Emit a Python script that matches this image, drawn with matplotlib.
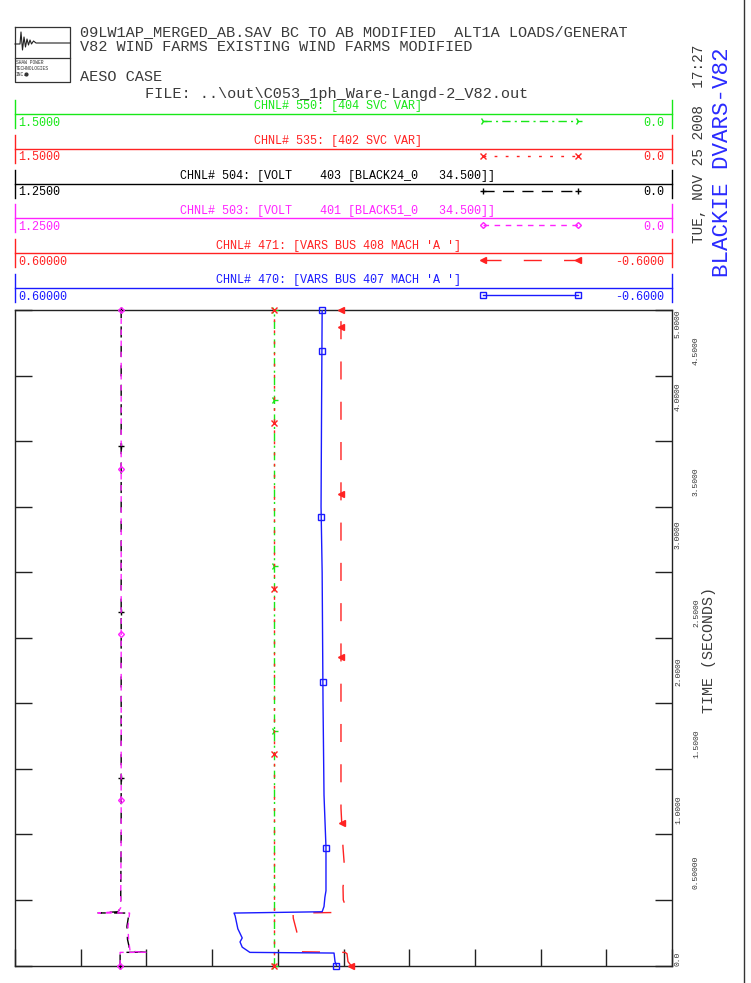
import matplotlib
matplotlib.use('Agg')
import matplotlib.pyplot as plt
import matplotlib.transforms as mtransforms
import numpy as np

plt.rcParams['font.family'] = ['Liberation Mono', 'DejaVu Sans']

# ---------------- data ----------------
header_lines = ['09LW1AP_MERGED_AB.SAV BC TO AB MODIFIED  ALT1A LOADS/GENERAT',
                'V82 WIND FARMS EXISTING WIND FARMS MODIFIED']
case_name = 'AESO CASE'
file_name = r'FILE: ..\out\C053_1ph_Ware-Langd-2_V82.out'
date_text = 'TUE, NOV 25 2008  17:27'
plot_title = 'BLACKIE DVARS-V82'

ch_titles = ['CHNL# 550: [404 SVC VAR]',
             'CHNL# 535: [402 SVC VAR]',
             'CHNL# 504: [VOLT    403 [BLACK24_0   34.500]]',
             'CHNL# 503: [VOLT    401 [BLACK51_0   34.500]]',
             "CHNL# 471: [VARS BUS 408 MACH 'A ']",
             "CHNL# 470: [VARS BUS 407 MACH 'A ']"]
ch_left = [1.5, 1.5, 1.25, 1.25, 0.6, 0.6]
ch_right = [0.0, 0.0, 0.0, 0.0, -0.6, -0.6]
ch_left_txt = ['1.5000', '1.5000', '1.2500', '1.2500', '0.60000', '0.60000']
ch_right_txt = ['0.0', '0.0', '0.0', '0.0', '-0.6000', '-0.6000']

# channel 550 - SVC var at bus 404
t_550 = [0.0, 0.1, 0.4, 5.0]
svc_404 = [0.909, 0.909, 0.909, 0.909]
# channel 535 - SVC var at bus 402
t_535 = [0.0, 0.1, 0.4, 5.0]
svc_402 = [0.909, 0.909, 0.909, 0.909]
# channel 504 - voltage bus 403
t_504 = [0.0, 0.1, 0.101, 0.108, 0.2, 0.3, 0.4, 0.401, 0.41, 0.44, 1.0, 2.0, 3.0, 4.0, 5.0]
volt_403 = [1.050, 1.050, 1.001, 1.031, 1.036, 1.037, 1.033, 1.092, 1.054, 1.049,
            1.048, 1.048, 1.048, 1.048, 1.048]
# channel 503 - voltage bus 401
t_503 = [0.0, 0.1, 0.101, 0.108, 0.2, 0.3, 0.4, 0.401, 0.41, 0.44, 1.0, 2.0, 3.0, 4.0, 5.0]
volt_401 = [1.050, 1.050, 1.001, 1.031, 1.034, 1.035, 1.032, 1.092, 1.054, 1.049,
            1.048, 1.048, 1.048, 1.048, 1.048]
# channel 471 - vars machine at bus 408
t_471 = [0.0, 0.03, 0.09, 0.1, 0.105, 0.2, 0.26, 0.36, 0.4, 0.405, 0.45, 0.5, 0.6,
         0.7, 0.9, 1.2, 2.0, 3.0, 4.0, 5.0]
vars_408 = [-0.0137, -0.0082, -0.0064, -0.0027, 0.0813, 0.083, 0.0855, 0.0917, 0.0922,
            0.0009, -0.004, 0.0004, 0.0009, -0.0027, 0.0009, 0.0046, 0.0046, 0.0046,
            0.0046, 0.0046]
# channel 470 - vars machine at bus 407
t_470 = [0.0, 0.03, 0.095, 0.1, 0.14, 0.18, 0.21, 0.28, 0.38, 0.4, 0.41, 0.45, 0.52,
         0.57, 0.9, 1.3, 2.0, 3.0, 3.5, 4.3, 5.0]
vars_407 = [0.0128, 0.0155, 0.0173, 0.171, 0.185, 0.189, 0.185, 0.193, 0.198, 0.200,
            0.039, 0.0356, 0.034, 0.032, 0.032, 0.0356, 0.0374, 0.039, 0.041, 0.040, 0.039]

# times where the plot symbols sit on each trace
mark_550 = [0.0, 1.79, 3.05, 4.31, 5.0]
mark_535 = [0.0, 1.61, 2.87, 4.14, 5.0]
mark_504 = [0.0, 1.43, 2.70, 3.96, 5.0]
mark_503 = [0.0, 1.26, 2.53, 3.79, 5.0]
mark_471 = [0.0, 1.09, 2.35, 3.60, 4.87, 5.0]
mark_470 = [0.0, 0.90, 2.16, 3.42, 4.69, 5.0]

time_ticks = [0.0, 0.5, 1.0, 1.5, 2.0, 2.5, 3.0, 3.5, 4.0, 4.5, 5.0]
time_labels = ['0.0', '0.50000', '1.0000', '1.5000', '2.0000', '2.5000',
               '3.0000', '3.5000', '4.0000', '4.5000', '5.0000']

series = [(t_550, svc_404, mark_550), (t_535, svc_402, mark_535),
          (t_504, volt_403, mark_504), (t_503, volt_401, mark_503),
          (t_471, vars_408, mark_471), (t_470, vars_407, mark_470)]

# ---------------- styles ----------------
colors = ['#18e818', '#ff2222', '#000000', '#ff22ff', '#ff2222', '#1a1aff']
styles = [(0, (6, 3, 1.5, 3)), (0, (2, 6)), (0, (8, 6)), (0, (4, 4)), (0, (13, 16)), '-']
markers = ['4', 'x', '+', 'D', '<', 's']
msizes = [6, 4, 5, 3, 4, 4]
mfill = ['full', 'full', 'full', 'none', 'full', 'none']
ink = '#3a3a3a'

W, H = 751, 983
fig = plt.figure(figsize=(W / 100, H / 100), dpi=100)

# overlay in pixel units for the page furniture
ov = fig.add_axes([0, 0, 1, 1])
ov.set_xlim(0, W)
ov.set_ylim(H, 0)
ov.axis('off')

# logo
ov.plot([15, 70, 70, 15, 15], [27, 27, 82, 82, 27], color='#333333', lw=0.9)
ov.plot([15, 70], [58, 58], color='#333333', lw=0.9)
logo_x = [15, 20, 21, 22.5, 24, 25.5, 27, 28.5, 30, 31.5, 33.5, 36, 44, 70]
logo_y = [44, 44, 32, 50, 37, 47, 39, 45, 40, 44, 41, 43, 43, 43]
ov.plot(logo_x, logo_y, color='#222222', lw=0.8)
for k, s in enumerate(['SHAW POWER', 'TECHNOLOGIES', 'INC.']):
    ov.text(16, 63 + 5.5 * k, s, fontsize=3.3, va='center', color='#333333')
ov.plot([26], [74], marker='o', ms=2, color='#333333')

# header texts
ov.text(80, 32, header_lines[0], fontsize=11.0, va='center', color=ink)
ov.text(80, 47, header_lines[1], fontsize=11.0, va='center', color=ink)
ov.text(80, 77, case_name, fontsize=11.0, va='center', color=ink)
ov.text(145, 94, file_name, fontsize=11.0, va='center', color=ink)

# side texts
ov.text(699, 243, date_text, rotation=90, fontsize=10.4, ha='center', va='bottom',
        color=ink)
ov.text(722, 277, plot_title, rotation=90, fontsize=16.2, ha='center', va='bottom',
        color='#2a2aff')
ov.plot([743.5, 743.5], [0, H], color='#333333', lw=1)

# channel headers
for i in range(6):
    ly = 114 + 34.8 * i
    c = colors[i]
    ov.plot([15, 672], [ly, ly], color=c, lw=1.0)
    ov.plot([15, 15], [ly - 14, ly + 14], color=c, lw=1.0)
    ov.plot([672, 672], [ly - 14, ly + 14], color=c, lw=1.0)
    ov.text(338, ly - 1.5, ch_titles[i], fontsize=8.5, ha='center', va='bottom', color=c)
    ov.text(18, ly + 8.5, ch_left_txt[i], fontsize=8.5, ha='left', va='center', color=c)
    ov.text(664, ly + 8.5, ch_right_txt[i], fontsize=8.5, ha='right', va='center', color=c)
    ov.plot([483, 578], [ly + 7, ly + 7], color=c, lw=1, linestyle=styles[i],
            marker=markers[i], ms=msizes[i], fillstyle=mfill[i], mew=1)

# main plot area
ax = fig.add_axes([15 / W, 1 - 965.5 / H, 657 / W, 655.5 / H])
ax.set_xlim(0, 1)
ax.set_ylim(0, 5)
ax.set_yticks(time_ticks)
ax.set_xticks(np.linspace(0, 1, 11))
ax.tick_params(direction='in', length=12.2, width=1, color='#222222',
               left=True, right=True, top=True, bottom=True,
               labelleft=False, labelbottom=False)
for sp in ax.spines.values():
    sp.set_color('#222222')
    sp.set_linewidth(1)

for i, (t, v, mt) in enumerate(series):
    cax = ax.twiny()
    cax.set_xlim(ch_left[i], ch_right[i])
    cax.set_ylim(0, 5)
    cax.axis('off')
    cax.plot(v, t, color=colors[i], lw=1, linestyle=styles[i])
    cax.plot(np.interp(mt, t, v), mt, linestyle='none', marker=markers[i],
             ms=msizes[i], fillstyle=mfill[i], mew=1, color=colors[i], clip_on=False)

# time axis labels on the right, alternating columns
trans = mtransforms.blended_transform_factory(ov.transData, ax.transData)
for k, (tv, lab) in enumerate(zip(time_ticks, time_labels)):
    if tv == 0.0:
        xcol, ypos, va = 678.5, 0.0, 'bottom'
    elif tv == 5.0:
        xcol, ypos, va = 678.5, 5.0, 'top'
    elif k % 2 == 0:
        xcol, ypos, va = 678.5, tv + 0.05 * tv + 0.03, 'bottom'
    else:
        xcol, ypos, va = 696.5, tv + 0.08, 'bottom'
    ax.text(xcol, ypos, lab, transform=trans, rotation=90, fontsize=5.8,
            ha='center', va=va, color='#333333', clip_on=False)
ov.text(709, 650, 'TIME (SECONDS)', rotation=90, fontsize=10.8, ha='center',
        va='center', color=ink)

fig.savefig('out.png', dpi=100)
